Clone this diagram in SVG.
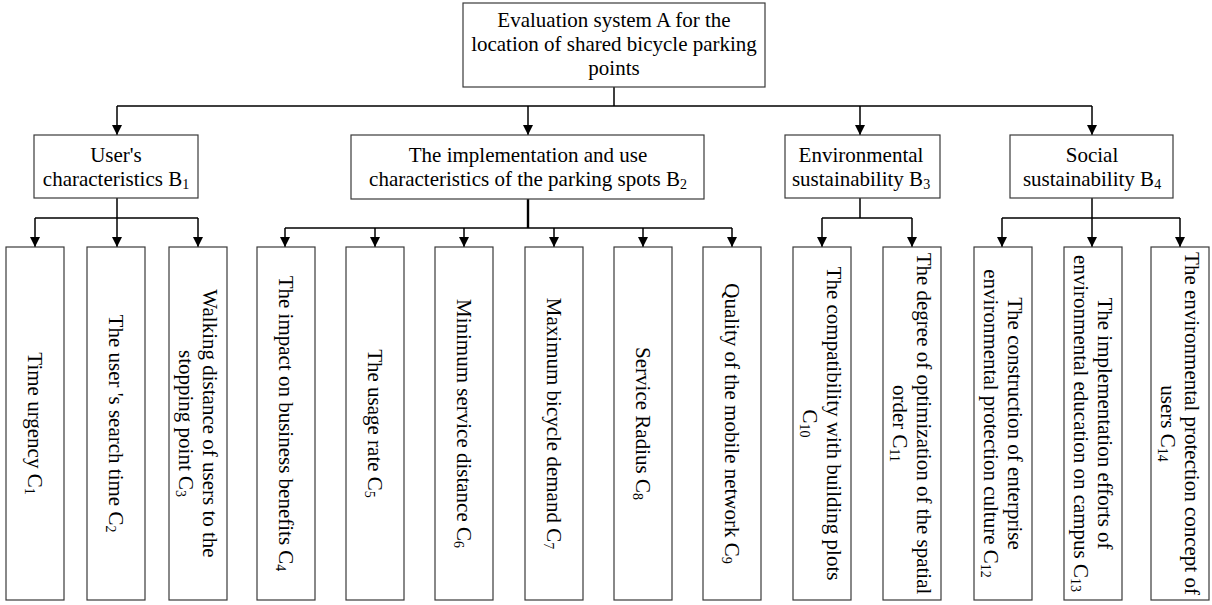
<svg xmlns="http://www.w3.org/2000/svg" width="1212" height="605" viewBox="0 0 1212 605">
<style>
.box{fill:#fff;stroke:#3a3a3a;stroke-width:1.2}
.t{font-family:"Liberation Serif","Times New Roman",serif;font-size:21px;fill:#000;text-anchor:middle}
.s{font-size:14px}
.c{fill:none;stroke:#000;stroke-width:1.5}
.thick{stroke-width:2.4}
</style>
<defs>
<marker id="ah" markerUnits="userSpaceOnUse" markerWidth="10" markerHeight="10" refX="10" refY="5" orient="auto">
<path d="M0,0 L10,5 L0,10 z" fill="#000"/>
</marker>
</defs>
<rect width="1212" height="605" fill="#fff"/>
<g id="connectors">
<path class="c" d="M614,87 V106 M117,106 H1092"/>
<path class="c" marker-end="url(#ah)" d="M117,106 V135"/>
<path class="c" marker-end="url(#ah)" d="M528,106 V135"/>
<path class="c" marker-end="url(#ah)" d="M860,106 V135"/>
<path class="c" marker-end="url(#ah)" d="M1092,106 V135"/>
<path class="c" d="M117,198 V218 M35,218 H198"/>
<path class="c" marker-end="url(#ah)" d="M35,218 V247"/>
<path class="c" marker-end="url(#ah)" d="M117,218 V247"/>
<path class="c" marker-end="url(#ah)" d="M198,218 V247"/>
<path class="c thick" d="M528,199 V228"/>
<path class="c" d="M285,228 H732"/>
<path class="c" marker-end="url(#ah)" d="M285,228 V247"/>
<path class="c" marker-end="url(#ah)" d="M375,228 V247"/>
<path class="c" marker-end="url(#ah)" d="M464,228 V247"/>
<path class="c" marker-end="url(#ah)" d="M554,228 V247"/>
<path class="c" marker-end="url(#ah)" d="M643,228 V247"/>
<path class="c" marker-end="url(#ah)" d="M732,228 V247"/>
<path class="c" d="M860,198 V218 M822,218 H912"/>
<path class="c" marker-end="url(#ah)" d="M822,218 V247"/>
<path class="c" marker-end="url(#ah)" d="M912,218 V247"/>
<path class="c" d="M1092,198 V218 M1002,218 H1180"/>
<path class="c" marker-end="url(#ah)" d="M1002,218 V247"/>
<path class="c" marker-end="url(#ah)" d="M1092,218 V247"/>
<path class="c" marker-end="url(#ah)" d="M1180,218 V247"/>
</g>
<g id="A">
<rect class="box" x="463" y="3" width="302" height="84"/>
<text class="t"><tspan x="614" y="27">Evaluation system A for the</tspan><tspan x="614" y="51">location of shared bicycle parking</tspan><tspan x="614" y="75">points</tspan></text>
</g>
<g id="B1">
<rect class="box" x="34" y="135" width="164" height="63"/>
<text class="t"><tspan x="116" y="162">User's</tspan><tspan x="116" y="186">characteristics B<tspan class="s" dy="3">1</tspan></tspan></text>
</g>
<g id="B2">
<rect class="box" x="351" y="135" width="353" height="64"/>
<text class="t"><tspan x="528" y="162">The implementation and use</tspan><tspan x="528" y="186">characteristics of the parking spots B<tspan class="s" dy="3">2</tspan></tspan></text>
</g>
<g id="B3">
<rect class="box" x="785" y="135" width="155" height="63"/>
<text class="t"><tspan x="861" y="162">Environmental</tspan><tspan x="861" y="186">sustainability B<tspan class="s" dy="3">3</tspan></tspan></text>
</g>
<g id="B4">
<rect class="box" x="1010" y="135" width="163" height="63"/>
<text class="t"><tspan x="1092" y="162">Social</tspan><tspan x="1092" y="186">sustainability B<tspan class="s" dy="3">4</tspan></tspan></text>
</g>
<g id="C1">
<rect class="box" x="6" y="247" width="58" height="353"/>
<text class="t" transform="translate(35,423.5) rotate(90)"><tspan x="0" y="7">Time urgency C<tspan class="s" dy="3">1</tspan></tspan></text>
</g>
<g id="C2">
<rect class="box" x="87" y="247" width="58" height="353"/>
<text class="t" transform="translate(116,423.5) rotate(90)"><tspan x="0" y="7">The user 's search time C<tspan class="s" dy="3">2</tspan></tspan></text>
</g>
<g id="C3">
<rect class="box" x="169" y="247" width="58" height="353"/>
<text class="t" transform="translate(198,423.5) rotate(90)"><tspan x="0" y="-5">Walking distance of users to the</tspan><tspan x="0" y="19">stopping point C<tspan class="s" dy="3">3</tspan></tspan></text>
</g>
<g id="C4">
<rect class="box" x="257" y="247" width="58" height="353"/>
<text class="t" transform="translate(286,423.5) rotate(90)"><tspan x="0" y="7">The impact on business benefits C<tspan class="s" dy="3">4</tspan></tspan></text>
</g>
<g id="C5">
<rect class="box" x="346" y="247" width="58" height="353"/>
<text class="t" transform="translate(375,423.5) rotate(90)"><tspan x="0" y="7">The usage rate C<tspan class="s" dy="3">5</tspan></tspan></text>
</g>
<g id="C6">
<rect class="box" x="435" y="247" width="58" height="353"/>
<text class="t" transform="translate(464,423.5) rotate(90)"><tspan x="0" y="7">Minimum service distance C<tspan class="s" dy="3">6</tspan></tspan></text>
</g>
<g id="C7">
<rect class="box" x="525" y="247" width="58" height="353"/>
<text class="t" transform="translate(554,423.5) rotate(90)"><tspan x="0" y="7">Maximum bicycle demand C<tspan class="s" dy="3">7</tspan></tspan></text>
</g>
<g id="C8">
<rect class="box" x="614" y="247" width="58" height="353"/>
<text class="t" transform="translate(643,423.5) rotate(90)"><tspan x="0" y="7">Service Radius C<tspan class="s" dy="3">8</tspan></tspan></text>
</g>
<g id="C9">
<rect class="box" x="703" y="247" width="58" height="353"/>
<text class="t" transform="translate(732,423.5) rotate(90)"><tspan x="0" y="7">Quality of the mobile network C<tspan class="s" dy="3">9</tspan></tspan></text>
</g>
<g id="C10">
<rect class="box" x="793" y="247" width="58" height="353"/>
<text class="t" transform="translate(822,423.5) rotate(90)"><tspan x="0" y="-5">The compatibility with building plots</tspan><tspan x="0" y="19">C<tspan class="s" dy="3">10</tspan></tspan></text>
</g>
<g id="C11">
<rect class="box" x="883" y="247" width="58" height="353"/>
<text class="t" transform="translate(912,423.5) rotate(90)"><tspan x="0" y="-5">The degree of optimization of the spatial</tspan><tspan x="0" y="19">order C<tspan class="s" dy="3">11</tspan></tspan></text>
</g>
<g id="C12">
<rect class="box" x="974" y="247" width="58" height="353"/>
<text class="t" transform="translate(1003,423.5) rotate(90)"><tspan x="0" y="-5">The construction of enterprise</tspan><tspan x="0" y="19">environmental protection culture C<tspan class="s" dy="3">12</tspan></tspan></text>
</g>
<g id="C13">
<rect class="box" x="1064" y="247" width="58" height="353"/>
<text class="t" transform="translate(1093,423.5) rotate(90)"><tspan x="0" y="-5">The implementation efforts of</tspan><tspan x="0" y="19">environmental education on campus C<tspan class="s" dy="3">13</tspan></tspan></text>
</g>
<g id="C14">
<rect class="box" x="1151" y="247" width="58" height="353"/>
<text class="t" transform="translate(1180,423.5) rotate(90)"><tspan x="0" y="-5">The environmental protection concept of</tspan><tspan x="0" y="19">users C<tspan class="s" dy="3">14</tspan></tspan></text>
</g>
</svg>
